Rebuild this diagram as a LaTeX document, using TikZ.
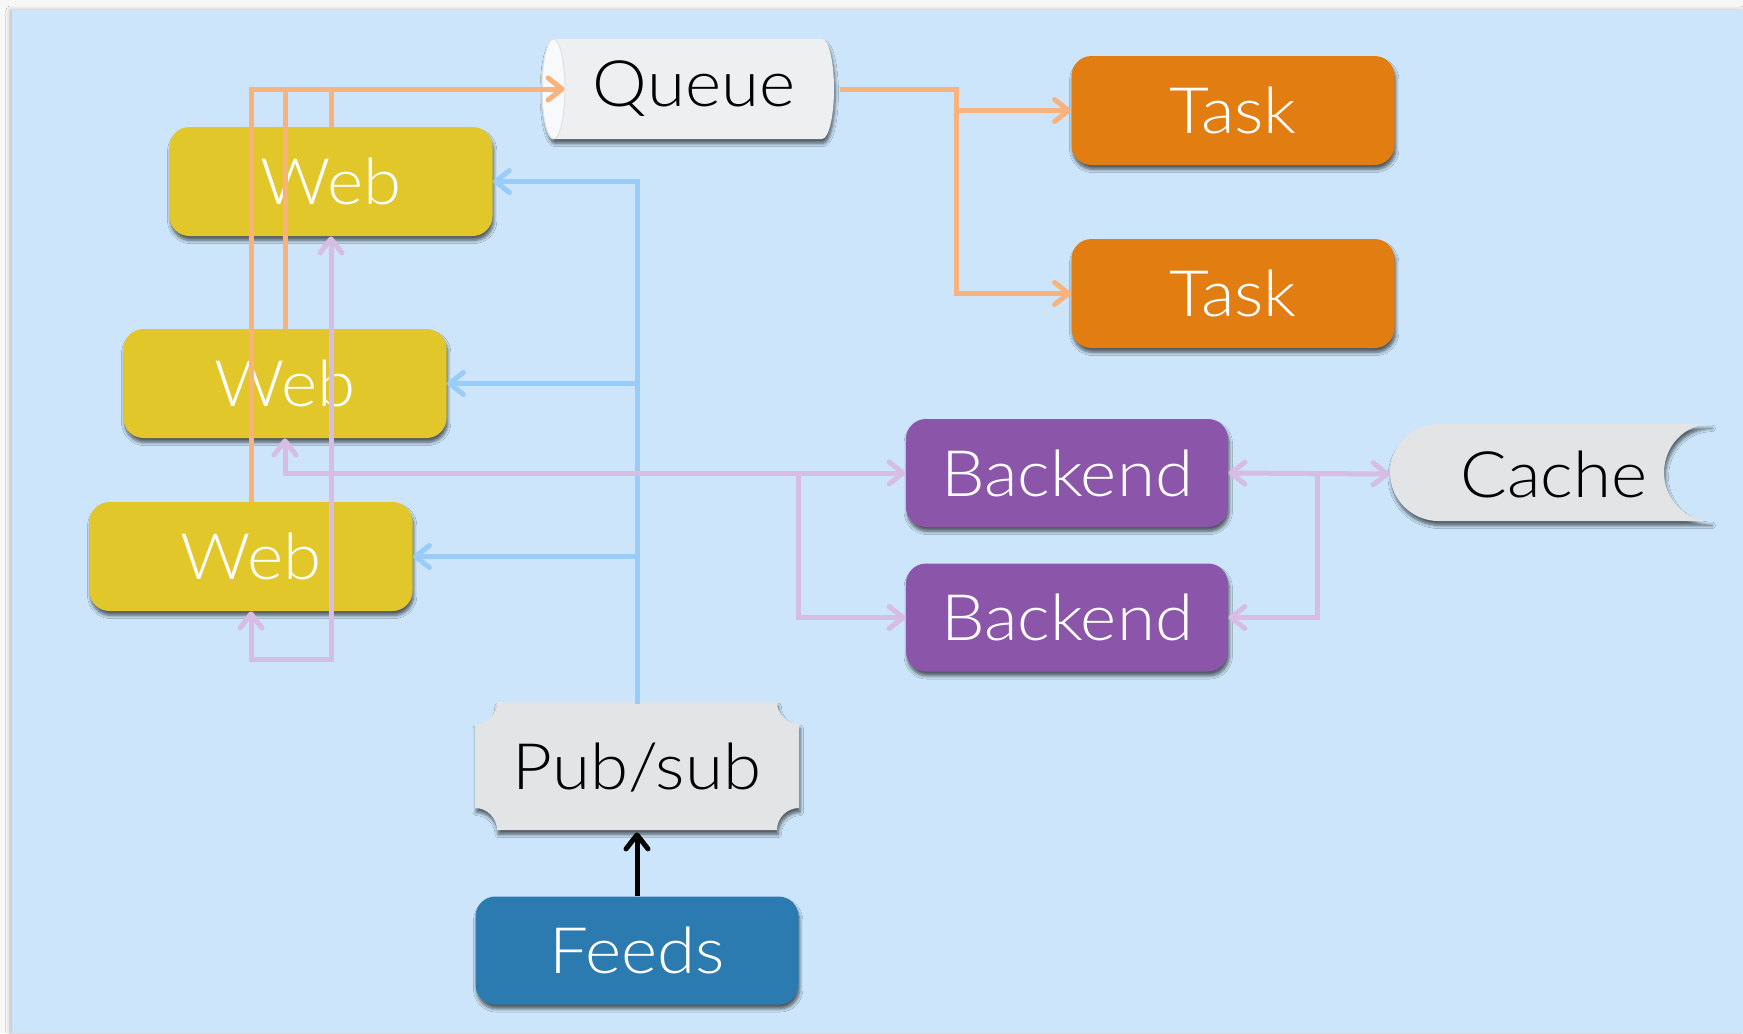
\documentclass[tikz,border=0pt]{standalone}
\usepackage{fontspec}
\setmainfont{Lato Light}[FakeStretch=1.08]
\usetikzlibrary{arrows.meta,shadows,shadows.blur}
\definecolor{bgblue}{HTML}{CCE5FA}
\definecolor{pagegrey}{HTML}{F7F7F7}
\definecolor{taskc}{HTML}{E27D12}
\definecolor{webc}{HTML}{E2C72B}
\definecolor{backc}{HTML}{8B55AA}
\definecolor{feedc}{HTML}{2B7BB1}
\definecolor{greyc}{HTML}{E2E4E6}
\definecolor{queuec}{HTML}{EDEFF1}
\definecolor{queueface}{HTML}{F8F9FA}
\definecolor{orline}{HTML}{F7B37B}
\definecolor{puline}{HTML}{D7BCE3}
\definecolor{blline}{HTML}{99CCF8}
\definecolor{shadowc}{HTML}{2E3E50}
\tikzset{
  shad/.style={blur shadow={shadow xshift=0.6pt,shadow yshift=-2.2pt,shadow blur radius=1.6pt,shadow blur steps=6,shadow opacity=60}},
  boxnode/.style={rounded corners=10pt, minimum width=161.5pt, minimum height=54.5pt,
    inner sep=0pt, text=white, font=\fontsize{32}{36}\selectfont, shad},
  lblnode/.style={inner sep=0pt, text=black, font=\fontsize{32}{36}\selectfont},
  >={Straight Barb[length=7pt,width=11pt,round]},
  conn/.style={line width=2.5pt},
  orc/.style={conn, draw=orline},
  puc/.style={conn, draw=puline},
  blc/.style={conn, draw=blline},
  bkc/.style={conn, draw=black},
}
\begin{document}
\begin{tikzpicture}[x=0.5pt, y=-0.5pt]
\useasboundingbox (0,0) rectangle (1743,1033);
% page
\fill[pagegrey] (0,0) rectangle (1743,1033);
\fill[bgblue, blur shadow={shadow xshift=-1pt,shadow yshift=0pt,shadow blur radius=2pt,shadow opacity=25}] (12,10) rectangle (1743,1033);

% queue shape
\fill[queuec, shad] (553.5,39) -- (822,39)
  arc[start angle=90,end angle=-90,x radius=6pt,y radius=25pt]
  -- (553.5,139) arc[start angle=270,end angle=90,x radius=5.75pt,y radius=25pt] -- cycle;
\filldraw[fill=queueface, draw=black!12, line width=0.5pt] (553.5,89) ellipse[x radius=5.75pt, y radius=25pt];

% pub/sub shape
\fill[greyc, shad] (497,702) -- (777,702)
  arc[start angle=180,end angle=270,radius=11pt] -- (799,808)
  arc[start angle=90,end angle=180,radius=11pt] -- (497,830)
  arc[start angle=0,end angle=90,radius=11pt] -- (475,724)
  arc[start angle=270,end angle=360,radius=11pt] -- cycle;

% cache shape
\fill[greyc, shad] (1438.5,424) -- (1711,424)
  arc[start angle=90,end angle=270,x radius=23.5pt,y radius=24.25pt]
  -- (1438.5,521) arc[start angle=270,end angle=90,radius=24.25pt] -- cycle;

% nodes
\node[lblnode, minimum width=146pt, minimum height=50pt] (queue) at (694,89) {Queue};
\node[lblnode, minimum width=161.5pt, minimum height=64pt] (pubsub) at (637,768) {Pub/sub};
\node[lblnode, minimum width=164pt, minimum height=48.5pt] (cache) at (1554,474) {Cache};

\node[boxnode, fill=taskc] (task1) at (1233,110.5) {Task};
\node[boxnode, fill=taskc] (task2) at (1233,293.5) {Task};
\node[boxnode, fill=webc] (web1) at (331,181.5) {Web};
\node[boxnode, fill=webc] (web2) at (285,383.5) {Web};
\node[boxnode, fill=webc] (web3) at (251,556.5) {Web};
\node[boxnode, fill=backc, minimum width=161pt, minimum height=54pt] (back1) at (1067,473) {Backend};
\node[boxnode, fill=backc, minimum width=161pt, minimum height=54pt] (back2) at (1067,617.5) {Backend};
\node[boxnode, fill=feedc, minimum height=54pt] (feeds) at (637,950.5) {Feeds};

% helper coordinates
\coordinate (qin) at ([xshift=8.5pt]queue.west);
\coordinate (qsplit) at (956,0);
\coordinate (bsplit) at (798,0);
\coordinate (csplit) at (1317,0);
\coordinate (loopy) at (0,659);

% orange: web -> queue -> tasks
\draw[orc,->] (web3.north) |- (qin);
\draw[orc] (web2.north) -- (web2.north |- qin);
\draw[orc] (web1.north) -- (web1.north |- qin);
\draw[orc,->] (queue.east) -| (qsplit |- task2.west) -- (task2.west);
\draw[orc,->] (qsplit |- queue.east) |- (task1.west);

% blue: pub/sub -> webs
\draw[blc,->] (pubsub.north) |- (web1.east);
\draw[blc,->] (pubsub.north |- web2.east) -- (web2.east);
\draw[blc,->] (pubsub.north |- web3.east) -- (web3.east);

% purple
\draw[puc,<->] (web2.south) |- (back1.west);
\draw[puc,->] (bsplit |- back1.west) |- (back2.west);
\draw[puc,<->] (web3.south) -- (web3.south |- loopy) -| (web1.south);
\draw[puc,<->] (back1.east) -- (cache.west);
\draw[puc,->] (csplit |- back1.east) |- (back2.east);

% black
\draw[bkc,->] (feeds.north) -- (pubsub.south);
\end{tikzpicture}
\end{document}
